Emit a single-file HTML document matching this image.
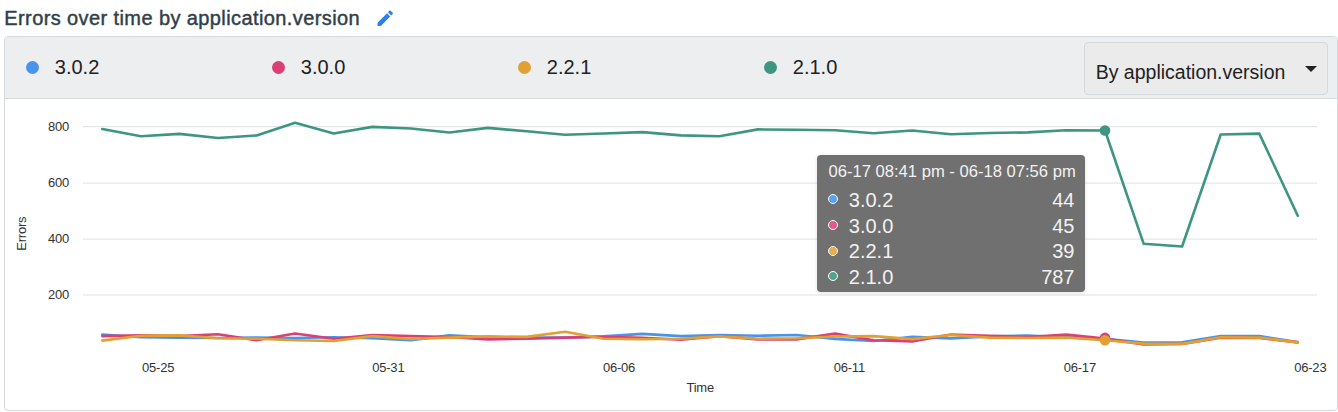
<!DOCTYPE html>
<html><head><meta charset="utf-8">
<style>
html,body{margin:0;padding:0;background:#fff;}
body{width:1338px;height:412px;position:relative;overflow:hidden;font-family:"Liberation Sans",Arial,sans-serif;}
.title{position:absolute;left:4.3px;top:4px;font-size:20px;line-height:28px;color:#313f49;white-space:nowrap;letter-spacing:0.4px;-webkit-text-stroke:0.45px #313f49;}
.pencil{position:absolute;left:375.4px;top:7.8px;width:20.5px;height:20.5px;}
.panel{position:absolute;left:4px;top:36px;width:1332px;height:373px;border:1px solid #d3d9dd;border-radius:4px;overflow:hidden;background:#fff;}
.legend{position:absolute;left:0;top:0;width:1332px;height:61px;background:#eceef0;border-bottom:1px solid #d3d9dd;}
.li{position:absolute;top:0;height:61px;}
.li .dot{position:absolute;width:13px;height:13px;border-radius:50%;top:23.7px;}
.li .lt{position:absolute;top:15.8px;font-size:20px;line-height:28px;color:#222;white-space:nowrap;}
.dd{position:absolute;left:1079px;top:5px;width:242px;height:50.5px;border:1px solid #d3d9dd;border-radius:4px;background:#ebebeb;}
.dd .t{position:absolute;left:10.7px;top:14.6px;font-size:19.5px;line-height:28px;color:#222;white-space:nowrap;}
.dd .arr{position:absolute;left:219.7px;top:22.7px;width:0;height:0;border-left:6px solid transparent;border-right:6px solid transparent;border-top:6px solid #222;}
svg.chart{position:absolute;left:0;top:0;}
.tk{font-family:"Liberation Sans",Arial,sans-serif;font-size:13px;letter-spacing:-0.2px;fill:#333;}
.tip{position:absolute;left:817px;top:155px;width:268px;height:137px;background:#707070;border-radius:4px;color:#f2f2f2;box-shadow:0 1px 4px rgba(0,0,0,0.12);}
.tip .h{position:absolute;left:11.5px;top:5.3px;font-size:16.6px;line-height:24px;white-space:nowrap;}
.tip .r{position:absolute;left:0;width:267px;height:26px;}
.tip .r .d{position:absolute;left:11px;top:6.4px;width:8px;height:8px;border-radius:50%;border:1.5px solid #fff;}
.tip .r .n{position:absolute;left:31.8px;top:0;font-size:20px;line-height:24px;white-space:nowrap;}
.tip .r .v{position:absolute;right:9.5px;top:0;font-size:20px;line-height:24px;white-space:nowrap;}
</style></head><body>
<div class="title">Errors over time by application.version</div>
<svg class="pencil" viewBox="0 0 24 24"><path fill="#2d7fea" d="M3 17.25V21h3.75L17.81 9.94l-3.75-3.75L3 17.25zM20.71 7.04c.39-.39.39-1.02 0-1.41l-2.34-2.34c-.39-.39-1.02-.39-1.41 0l-1.83 1.83 3.75 3.75 1.83-1.83z"/></svg>
<div class="panel">
  <div class="legend">
    <div class="li" style="left:21px"><div class="dot" style="background:#4a93ea"></div><div class="lt" style="left:28.8px">3.0.2</div></div>
    <div class="li" style="left:267px"><div class="dot" style="background:#dc3f73"></div><div class="lt" style="left:28.8px">3.0.0</div></div>
    <div class="li" style="left:513px"><div class="dot" style="background:#e1a032"></div><div class="lt" style="left:28.8px">2.2.1</div></div>
    <div class="li" style="left:759px"><div class="dot" style="background:#3d9582"></div><div class="lt" style="left:28.8px">2.1.0</div></div>
    <div class="dd"><div class="t">By application.version</div><div class="arr"></div></div>
  </div>
</div>
<svg class="chart" width="1338" height="412" viewBox="0 0 1338 412">
<line x1="83" y1="126.7" x2="1317" y2="126.7" stroke="#dde1e4" stroke-width="1"/>
<text x="69" y="130.7" text-anchor="end" class="tk">800</text>
<line x1="83" y1="183.1" x2="1317" y2="183.1" stroke="#dde1e4" stroke-width="1"/>
<text x="69" y="187.1" text-anchor="end" class="tk">600</text>
<line x1="83" y1="239.1" x2="1317" y2="239.1" stroke="#dde1e4" stroke-width="1"/>
<text x="69" y="243.1" text-anchor="end" class="tk">400</text>
<line x1="83" y1="295.0" x2="1317" y2="295.0" stroke="#dde1e4" stroke-width="1"/>
<text x="69" y="299.0" text-anchor="end" class="tk">200</text>
<text x="158.2" y="371.8" text-anchor="middle" class="tk">05-25</text>
<text x="388.3" y="371.8" text-anchor="middle" class="tk">05-31</text>
<text x="619.0" y="371.8" text-anchor="middle" class="tk">06-06</text>
<text x="849.3" y="371.8" text-anchor="middle" class="tk">06-11</text>
<text x="1079.8" y="371.8" text-anchor="middle" class="tk">06-17</text>
<text x="1310.3" y="371.8" text-anchor="middle" class="tk">06-23</text>
<text x="700.2" y="392" text-anchor="middle" class="tk">Time</text>
<text transform="translate(25.5,233.7) rotate(-90)" text-anchor="middle" class="tk">Errors</text>
<polyline points="102.3,334.6 140.9,337.3 179.4,337.6 218.0,338.0 256.6,337.6 295.1,338.0 333.7,337.2 372.3,338.2 410.8,340.2 449.4,335.4 488.0,337.2 526.5,337.6 565.1,337.6 603.7,336.4 642.2,333.9 680.8,336.1 719.4,335.0 757.9,335.7 796.5,335.0 835.1,338.9 873.6,341.0 912.2,336.9 950.8,338.4 989.3,336.4 1027.9,335.5 1066.5,337.2 1105.0,338.8 1143.6,342.6 1182.1,342.4 1220.7,336.1 1259.3,336.1 1297.8,342.1" fill="none" stroke="#4a93ea" stroke-width="2.6" stroke-linejoin="round" stroke-linecap="round"/>
<polyline points="102.3,336.1 140.9,335.4 179.4,336.1 218.0,334.2 256.6,340.2 295.1,333.5 333.7,338.7 372.3,335.0 410.8,336.1 449.4,337.0 488.0,339.4 526.5,338.7 565.1,337.6 603.7,336.7 642.2,337.8 680.8,339.7 719.4,336.1 757.9,339.4 796.5,339.4 835.1,333.6 873.6,340.2 912.2,341.4 950.8,334.5 989.3,335.7 1027.9,337.0 1066.5,334.6 1105.0,338.6 1143.6,344.5 1182.1,343.9 1220.7,337.6 1259.3,338.0 1297.8,342.4" fill="none" stroke="#dc3f73" stroke-width="2.6" stroke-linejoin="round" stroke-linecap="round"/>
<polyline points="102.3,340.6 140.9,335.7 179.4,335.4 218.0,338.2 256.6,338.7 295.1,340.2 333.7,341.0 372.3,336.1 410.8,339.0 449.4,337.6 488.0,336.4 526.5,336.9 565.1,331.7 603.7,338.7 642.2,339.2 680.8,338.7 719.4,336.4 757.9,338.7 796.5,338.2 835.1,336.5 873.6,336.1 912.2,339.1 950.8,335.0 989.3,337.6 1027.9,338.0 1066.5,337.6 1105.0,340.2 1143.6,343.6 1182.1,343.9 1220.7,337.2 1259.3,337.6 1297.8,342.4" fill="none" stroke="#e1a032" stroke-width="2.6" stroke-linejoin="round" stroke-linecap="round"/>
<polyline points="102.3,129.0 140.9,136.2 179.4,133.9 218.0,138.0 256.6,135.5 295.1,122.7 333.7,133.5 372.3,126.9 410.8,128.5 449.4,132.5 488.0,127.9 526.5,131.3 565.1,134.8 603.7,133.5 642.2,132.1 680.8,135.4 719.4,136.3 757.9,129.4 796.5,129.7 835.1,130.2 873.6,133.2 912.2,130.5 950.8,134.2 989.3,133.0 1027.9,132.4 1066.5,130.2 1105.0,130.5 1143.6,243.7 1182.1,246.5 1220.7,134.5 1259.3,133.6 1297.8,215.8" fill="none" stroke="#3d9582" stroke-width="2.6" stroke-linejoin="round" stroke-linecap="round"/>
<circle cx="1105.0" cy="338.8" r="5.3" fill="#4a93ea"/>
<circle cx="1105.0" cy="337.9" r="5.3" fill="#dc3f73"/>
<circle cx="1105.0" cy="340.2" r="5.3" fill="#e1a032"/>
<circle cx="1105.0" cy="130.5" r="5.3" fill="#3d9582"/>
</svg>
<div class="tip">
  <div class="h">06-17 08:41 pm - 06-18 07:56 pm</div>
  <div class="r" style="top:33px"><div class="d" style="background:#5aa1f0"></div><div class="n">3.0.2</div><div class="v">44</div></div>
  <div class="r" style="top:58.7px"><div class="d" style="background:#e3578a"></div><div class="n">3.0.0</div><div class="v">45</div></div>
  <div class="r" style="top:84.4px"><div class="d" style="background:#e8ae4c"></div><div class="n">2.2.1</div><div class="v">39</div></div>
  <div class="r" style="top:110.1px"><div class="d" style="background:#52a491"></div><div class="n">2.1.0</div><div class="v">787</div></div>
</div>
</body></html>
